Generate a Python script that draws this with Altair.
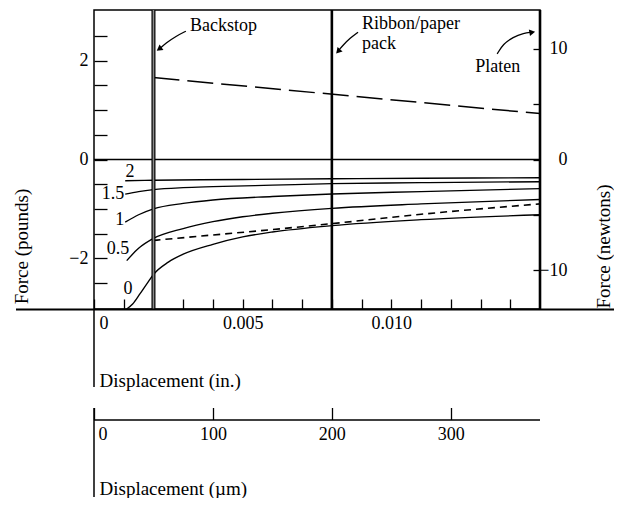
import altair as alt
import pandas as pd

FONT = "Liberation Serif"

# ---------------- data (x in inches, y in pounds) ----------------
c2_x = [0.00105, 0.002, 0.005, 0.008, 0.011, 0.015]
c2_y = [-0.43, -0.42, -0.405, -0.39, -0.38, -0.37]
c15_x = [0.00105, 0.0015, 0.002, 0.003, 0.004, 0.006, 0.008, 0.011, 0.015]
c15_y = [-0.70, -0.65, -0.61, -0.57, -0.55, -0.52, -0.49, -0.47, -0.45]
c1_x = [0.00105, 0.0015, 0.002, 0.003, 0.004, 0.006, 0.008, 0.011, 0.015]
c1_y = [-1.27, -1.12, -1.00, -0.89, -0.82, -0.75, -0.70, -0.65, -0.59]
c05_x = [0.0011, 0.0015, 0.002, 0.003, 0.004, 0.005, 0.006, 0.008, 0.011, 0.015]
c05_y = [-2.05, -1.80, -1.60, -1.40, -1.26, -1.16, -1.09, -0.99, -0.90, -0.81]
c0_x = [0.0011, 0.0013, 0.00155, 0.0018, 0.002, 0.0025, 0.003, 0.004, 0.005,
        0.006, 0.008, 0.011, 0.015]
c0_y = [-3.03, -2.93, -2.72, -2.50, -2.33, -2.08, -1.92, -1.72, -1.57,
        -1.47, -1.34, -1.22, -1.12]

dash_lo_x = [0.002, 0.004, 0.006, 0.008, 0.011, 0.015]
dash_lo_y = [-1.64, -1.53, -1.42, -1.30, -1.11, -0.90]
dash_hi_x = [0.002, 0.015]
dash_hi_y = [1.66, 0.93]

curve_labels = ["2", "1.5", "1", "0.5", "0"]
curve_label_x = [0.00121, 0.00064, 0.00087, 0.00081, 0.00114]
curve_label_y = [-0.25, -0.70, -1.23, -1.81, -2.62]

note_text = ["Backstop", "Ribbon/paper\npack", "Platen"]
note_x = [0.00323, 0.00901, 0.01282]
note_y = [2.60, 2.65, 1.77]

bs_arrow_x = [0.00309, 0.00276, 0.00242, 0.00222]
bs_arrow_y = [2.60, 2.50, 2.36, 2.25]
rb_arrow_x = [0.00888, 0.00861, 0.00838, 0.00824]
rb_arrow_y = [2.58, 2.46, 2.32, 2.22]
pl_arrow_x = [0.01356, 0.01376, 0.01409, 0.01446, 0.01470]
pl_arrow_y = [2.14, 2.34, 2.48, 2.56, 2.58]
head_x = [0.00219, 0.00821, 0.01474]
head_y = [2.24, 2.19, 2.58]
head_angle = [235, 222, 80]

backstop_x = [0.002]
stop_x = [0.008, 0.015]

lb_ticks = [-2.5, -2.0, -1.5, -1.0, -0.5, 0.0, 0.5, 1.0, 1.5, 2.0, 2.5]
in_ticks = [i / 1000 for i in range(15)]
n_ticks = [-10, -5, 0, 5, 10]
um_ticks = [0, 100, 200, 300]
um_span = [0, 375]


def series(name, xs, ys):
    return pd.DataFrame({"x": xs, "y": ys, "s": name, "i": list(range(len(xs)))})


solid = pd.concat([
    series("2", c2_x, c2_y), series("1.5", c15_x, c15_y), series("1", c1_x, c1_y),
    series("0.5", c05_x, c05_y), series("0", c0_x, c0_y)])
dash_lo = series("d", dash_lo_x, dash_lo_y)
dash_hi = series("h", dash_hi_x, dash_hi_y)
labels_df = pd.DataFrame({"t": curve_labels, "x": curve_label_x, "y": curve_label_y})
notes_df = pd.DataFrame({"t": note_text, "x": note_x, "y": note_y})
arrows_df = pd.concat([series("b", bs_arrow_x, bs_arrow_y), series("r", rb_arrow_x, rb_arrow_y),
                       series("p", pl_arrow_x, pl_arrow_y)])
heads_df = pd.DataFrame({"x": head_x, "y": head_y, "a": head_angle})

XS = alt.Scale(domain=[0, 0.015], nice=False, zero=False)
YS = alt.Scale(domain=[-3.03, 3.03], nice=False, zero=False)
NS = alt.Scale(domain=[-13.477, 13.477], nice=False, zero=False)
US = alt.Scale(domain=[0, 375], nice=False, zero=False)

common = dict(labelFont=FONT, labelFontSize=18, labelColor="black", tickColor="black",
              tickWidth=1.3, grid=False, domain=False, labelFlush=False, labelBound=False,
              labelOverlap=False, titleFont=FONT, titleFontSize=19, titleFontWeight="normal",
              titleColor="black")

x_axis = alt.Axis(
    orient="bottom", values=in_ticks, offset=-10, tickSize=10, labelPadding=5,
    labelExpr="datum.value == 0 ? '0' : (datum.value == 0.005 ? '0.005' : (datum.value == 0.01 ? '0.010' : ''))",
    labelAlign={"condition": {"test": "datum.value == 0", "value": "left"}, "value": "center"},
    labelOffset={"condition": {"test": "datum.value == 0", "value": 5}, "value": 0},
    title="Displacement (in.)", titleX=5, titleY=87, titleAlign="left",
    titleBaseline="alphabetic", titleAngle=0, **common)

y_axis = alt.Axis(
    orient="left", values=lb_ticks, offset=-13, tickSize=13, labelPadding=6,
    labelExpr="datum.value == 2 ? '2' : (datum.value == 0 ? '0' : (datum.value == -2 ? '\u22122' : ''))",
    title="Force (pounds)", titleAngle=270, titleX=-80, titleY=236, titleAlign="center",
    titleBaseline="alphabetic", **common)

n_axis = alt.Axis(
    orient="right", values=n_ticks, offset=-7, tickSize=7, labelPadding=27, labelAlign="right",
    labelExpr="datum.value == 10 ? '10' : (datum.value == 0 ? '0' : (datum.value == -10 ? '\u221210' : ''))",
    title="Force (newtons)", titleAngle=270, titleX=76, titleY=236, titleAlign="center",
    titleBaseline="alphabetic", **common)

um_axis = alt.Axis(
    orient="bottom", values=um_ticks, offset=98.5, tickSize=12, labelPadding=6,
    labelAlign={"condition": {"test": "datum.value == 0", "value": "left"}, "value": "center"},
    labelOffset={"condition": {"test": "datum.value == 0", "value": 4}, "value": 0},
    title="Displacement (\u00b5m)", titleX=5, titleY=87, titleAlign="left",
    titleBaseline="alphabetic", titleAngle=0, **common)

dummy = pd.DataFrame({"a": [0]})


def X(field, axis=None):
    return alt.X(field, scale=XS, axis=axis)


def Y(field, axis=None):
    return alt.Y(field, scale=YS, axis=axis)


solid_layer = alt.Chart(solid).mark_line(color="black", strokeWidth=1.35, interpolate="monotone").encode(
    x=X("x:Q", x_axis), y=Y("y:Q", y_axis), detail="s:N", order="i:Q")

dash_lo_layer = alt.Chart(dash_lo).mark_line(color="black", strokeWidth=1.6, strokeDash=[7, 5],
                                              interpolate="monotone").encode(
    x=X("x:Q"), y=Y("y:Q"), order="i:Q")

dash_hi_layer = alt.Chart(dash_hi).mark_line(color="black", strokeWidth=1.5, strokeDash=[26, 8]).encode(
    x=X("x:Q"), y=Y("y:Q"), order="i:Q")

zero_layer = alt.Chart(dummy).mark_rule(color="black", strokeWidth=1.6).encode(
    y=alt.Y(datum=0, scale=YS, axis=None))

backstop_outer = alt.Chart(pd.DataFrame({"x": backstop_x})).mark_rule(color="black", strokeWidth=4).encode(
    x=X("x:Q"))
backstop_inner = alt.Chart(pd.DataFrame({"x": backstop_x})).mark_rule(color="#8a8a8a", strokeWidth=1.6).encode(
    x=X("x:Q"))

stops_layer = alt.Chart(pd.DataFrame({"x": stop_x})).mark_rule(color="black", strokeWidth=2.6).encode(
    x=X("x:Q"))

xline_layer = alt.Chart(dummy).mark_rule(color="black", strokeWidth=1.8).encode(
    x=alt.value(-78), x2=alt.value(520), y=alt.value(299.5))

vext_in = alt.Chart(dummy).mark_rule(color="black", strokeWidth=1.5).encode(
    x=alt.X(datum=0, scale=XS, axis=None), y=alt.value(299), y2=alt.value(377))
vext_um = alt.Chart(dummy).mark_rule(color="black", strokeWidth=1.5).encode(
    x=alt.X(datum=0, scale=XS, axis=None), y=alt.value(398), y2=alt.value(487))

clabel_layer = alt.Chart(labels_df).mark_text(font=FONT, fontSize=18, color="black", align="center",
                                              baseline="middle").encode(
    x=X("x:Q"), y=Y("y:Q"), text="t:N")

notes_layer = alt.Chart(notes_df).mark_text(font=FONT, fontSize=18, color="black", align="left",
                                            baseline="alphabetic", lineBreak="\n",
                                            lineHeight=20).encode(
    x=X("x:Q"), y=Y("y:Q"), text="t:N")

arrows_layer = alt.Chart(arrows_df).mark_line(color="black", strokeWidth=1.3, interpolate="basis").encode(
    x=X("x:Q"), y=Y("y:Q"), detail="s:N", order="i:Q")

heads_layer = alt.Chart(heads_df).mark_point(shape="triangle-up", filled=True, color="black",
                                            size=45, opacity=1).encode(
    x=X("x:Q"), y=Y("y:Q"), angle=alt.Angle("a:Q", scale=None))

newton_layer = alt.Chart(pd.DataFrame({"n": n_ticks})).mark_tick(opacity=0).encode(
    y=alt.Y("n:Q", scale=NS, axis=n_axis))

um_layer = alt.Chart(pd.DataFrame({"a": [um_span[0]], "b": [um_span[1]]})).mark_rule(
    color="black", strokeWidth=1.6).encode(
    x=alt.X("a:Q", scale=US, axis=um_axis), x2="b:Q", y=alt.value(410))

chart = alt.layer(
    solid_layer, dash_lo_layer, dash_hi_layer, zero_layer, backstop_outer, backstop_inner,
    stops_layer, xline_layer, vext_in, vext_um, clabel_layer, notes_layer, arrows_layer,
    heads_layer, newton_layer, um_layer,
).resolve_scale(x="independent", y="independent").properties(
    width=446, height=299,
    padding={"left": 86, "top": 2, "right": 74, "bottom": 189},
    autosize=alt.AutoSizeParams(type="none"),
    background="white",
).configure_view(stroke="black", strokeWidth=1.5)

chart.save("out.html", embed_options={"renderer": "svg", "actions": False})
